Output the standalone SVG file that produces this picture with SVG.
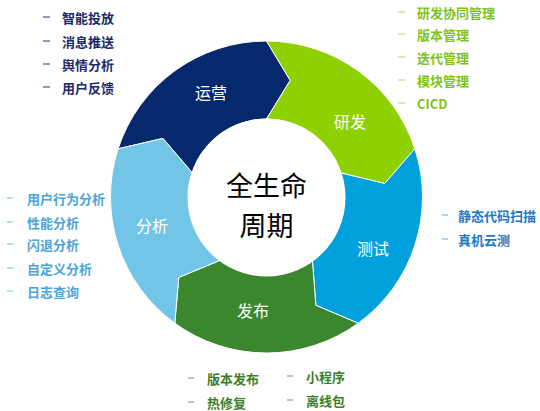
<svg xmlns="http://www.w3.org/2000/svg" width="540" height="411" viewBox="0 0 540 411">
<style>
.seg{stroke:#ffffff;stroke-width:1}
.lbl{font-family:"Noto Sans CJK SC","Noto Sans",sans-serif;font-size:16px;fill:#ffffff;text-anchor:middle;dominant-baseline:central}
.ctr{font-family:"Noto Sans CJK SC","Noto Sans",sans-serif;font-size:27px;fill:#000000;text-anchor:middle;dominant-baseline:central}
.it{font-family:"Noto Sans CJK SC","Noto Sans",sans-serif;font-size:13px;font-weight:bold;dominant-baseline:central}
.d{stroke-width:1.2}
.navy{fill:#1B2A6A}.navyd{stroke:#4A5688}
.lime{fill:#7DC31C}.limed{stroke:#B7DE84}
.lb{fill:#4AA5DA}.lbd{stroke:#8CC6E8}
.bl{fill:#1F78C4}.bld{stroke:#7FB3DE}
.dg{fill:#3C7F28}.dgd{stroke:#7FAA70}
</style>
<g id="connectors"></g>
<g id="node-yunying">
<path class="seg" fill="#06286C" d="M118.13,148.79 A156,156 0 0 1 266.5,41 L290.23,80.39 L266.5,119 A78,78 0 0 0 192.32,172.9 L162.93,138.4 Z"/>
<text class="lbl" x="211" y="92">运营</text>
</g>
<g id="node-yanfa">
<path class="seg" fill="#8FD100" d="M266.5,41 A156,156 0 0 1 414.87,148.79 L384.73,183.53 L340.68,172.9 A78,78 0 0 0 266.5,119 L290.23,80.39 Z"/>
<text class="lbl" x="350" y="121">研发</text>
</g>
<g id="node-ceshi">
<path class="seg" fill="#00A0DD" d="M414.87,148.79 A156,156 0 0 1 358.2,323.21 L315.85,305.29 L312.35,260.1 A78,78 0 0 0 340.68,172.9 L384.73,183.53 Z"/>
<text class="lbl" x="373" y="248">测试</text>
</g>
<g id="node-fabu">
<path class="seg" fill="#3A872E" d="M358.2,323.21 A156,156 0 0 1 174.8,323.21 L178.76,277.4 L220.65,260.1 A78,78 0 0 0 312.35,260.1 L315.85,305.29 Z"/>
<text class="lbl" x="253" y="310">发布</text>
</g>
<g id="node-fenxi">
<path class="seg" fill="#73C5E7" d="M174.8,323.21 A156,156 0 0 1 118.13,148.79 L162.93,138.4 L192.32,172.9 A78,78 0 0 0 220.65,260.1 L178.76,277.4 Z"/>
<text class="lbl" x="152" y="225">分析</text>
</g>
<g id="node-center">
<circle cx="266.5" cy="197.5" r="79" fill="#ffffff"/>
<text class="ctr" x="266.5" y="184.5">全生命</text>
<text class="ctr" x="266.5" y="224">周期</text>
</g>
<g id="list-yunying">
<line class="d navyd" x1="43" y1="17" x2="50" y2="17"/><text class="it navy" x="62" y="17">智能投放</text>
<line class="d navyd" x1="43" y1="41" x2="50" y2="41"/><text class="it navy" x="62" y="41">消息推送</text>
<line class="d navyd" x1="43" y1="64" x2="50" y2="64"/><text class="it navy" x="62" y="64">舆情分析</text>
<line class="d navyd" x1="43" y1="87" x2="50" y2="87"/><text class="it navy" x="62" y="87">用户反馈</text>
</g>
<g id="list-yanfa">
<line class="d limed" x1="398" y1="12" x2="405" y2="12"/><text class="it lime" x="417" y="12">研发协同管理</text>
<line class="d limed" x1="398" y1="34" x2="405" y2="34"/><text class="it lime" x="417" y="34">版本管理</text>
<line class="d limed" x1="398" y1="57" x2="405" y2="57"/><text class="it lime" x="417" y="57">迭代管理</text>
<line class="d limed" x1="398" y1="80" x2="405" y2="80"/><text class="it lime" x="417" y="80">模块管理</text>
<line class="d limed" x1="398" y1="103" x2="405" y2="103"/><text class="it lime" x="417" y="103">CICD</text>
</g>
<g id="list-fenxi">
<line class="d lbd" x1="7" y1="198" x2="13" y2="198"/><text class="it lb" x="27" y="198">用户行为分析</text>
<line class="d lbd" x1="7" y1="222" x2="13" y2="222"/><text class="it lb" x="27" y="222">性能分析</text>
<line class="d lbd" x1="7" y1="244" x2="13" y2="244"/><text class="it lb" x="27" y="244">闪退分析</text>
<line class="d lbd" x1="7" y1="268" x2="13" y2="268"/><text class="it lb" x="27" y="268">自定义分析</text>
<line class="d lbd" x1="7" y1="291" x2="13" y2="291"/><text class="it lb" x="27" y="291">日志查询</text>
</g>
<g id="list-ceshi">
<line class="d bld" x1="442" y1="215" x2="448" y2="215"/><text class="it bl" x="458" y="215">静态代码扫描</text>
<line class="d bld" x1="442" y1="239" x2="448" y2="239"/><text class="it bl" x="458" y="239">真机云测</text>
</g>
<g id="list-fabu">
<line class="d dgd" x1="188" y1="378" x2="194" y2="378"/><text class="it dg" x="207" y="378">版本发布</text>
<line class="d dgd" x1="188" y1="402" x2="194" y2="402"/><text class="it dg" x="207" y="402">热修复</text>
<line class="d dgd" x1="287" y1="376" x2="293" y2="376"/><text class="it dg" x="306" y="376">小程序</text>
<line class="d dgd" x1="287" y1="400" x2="293" y2="400"/><text class="it dg" x="306" y="400">离线包</text>
</g>
</svg>
